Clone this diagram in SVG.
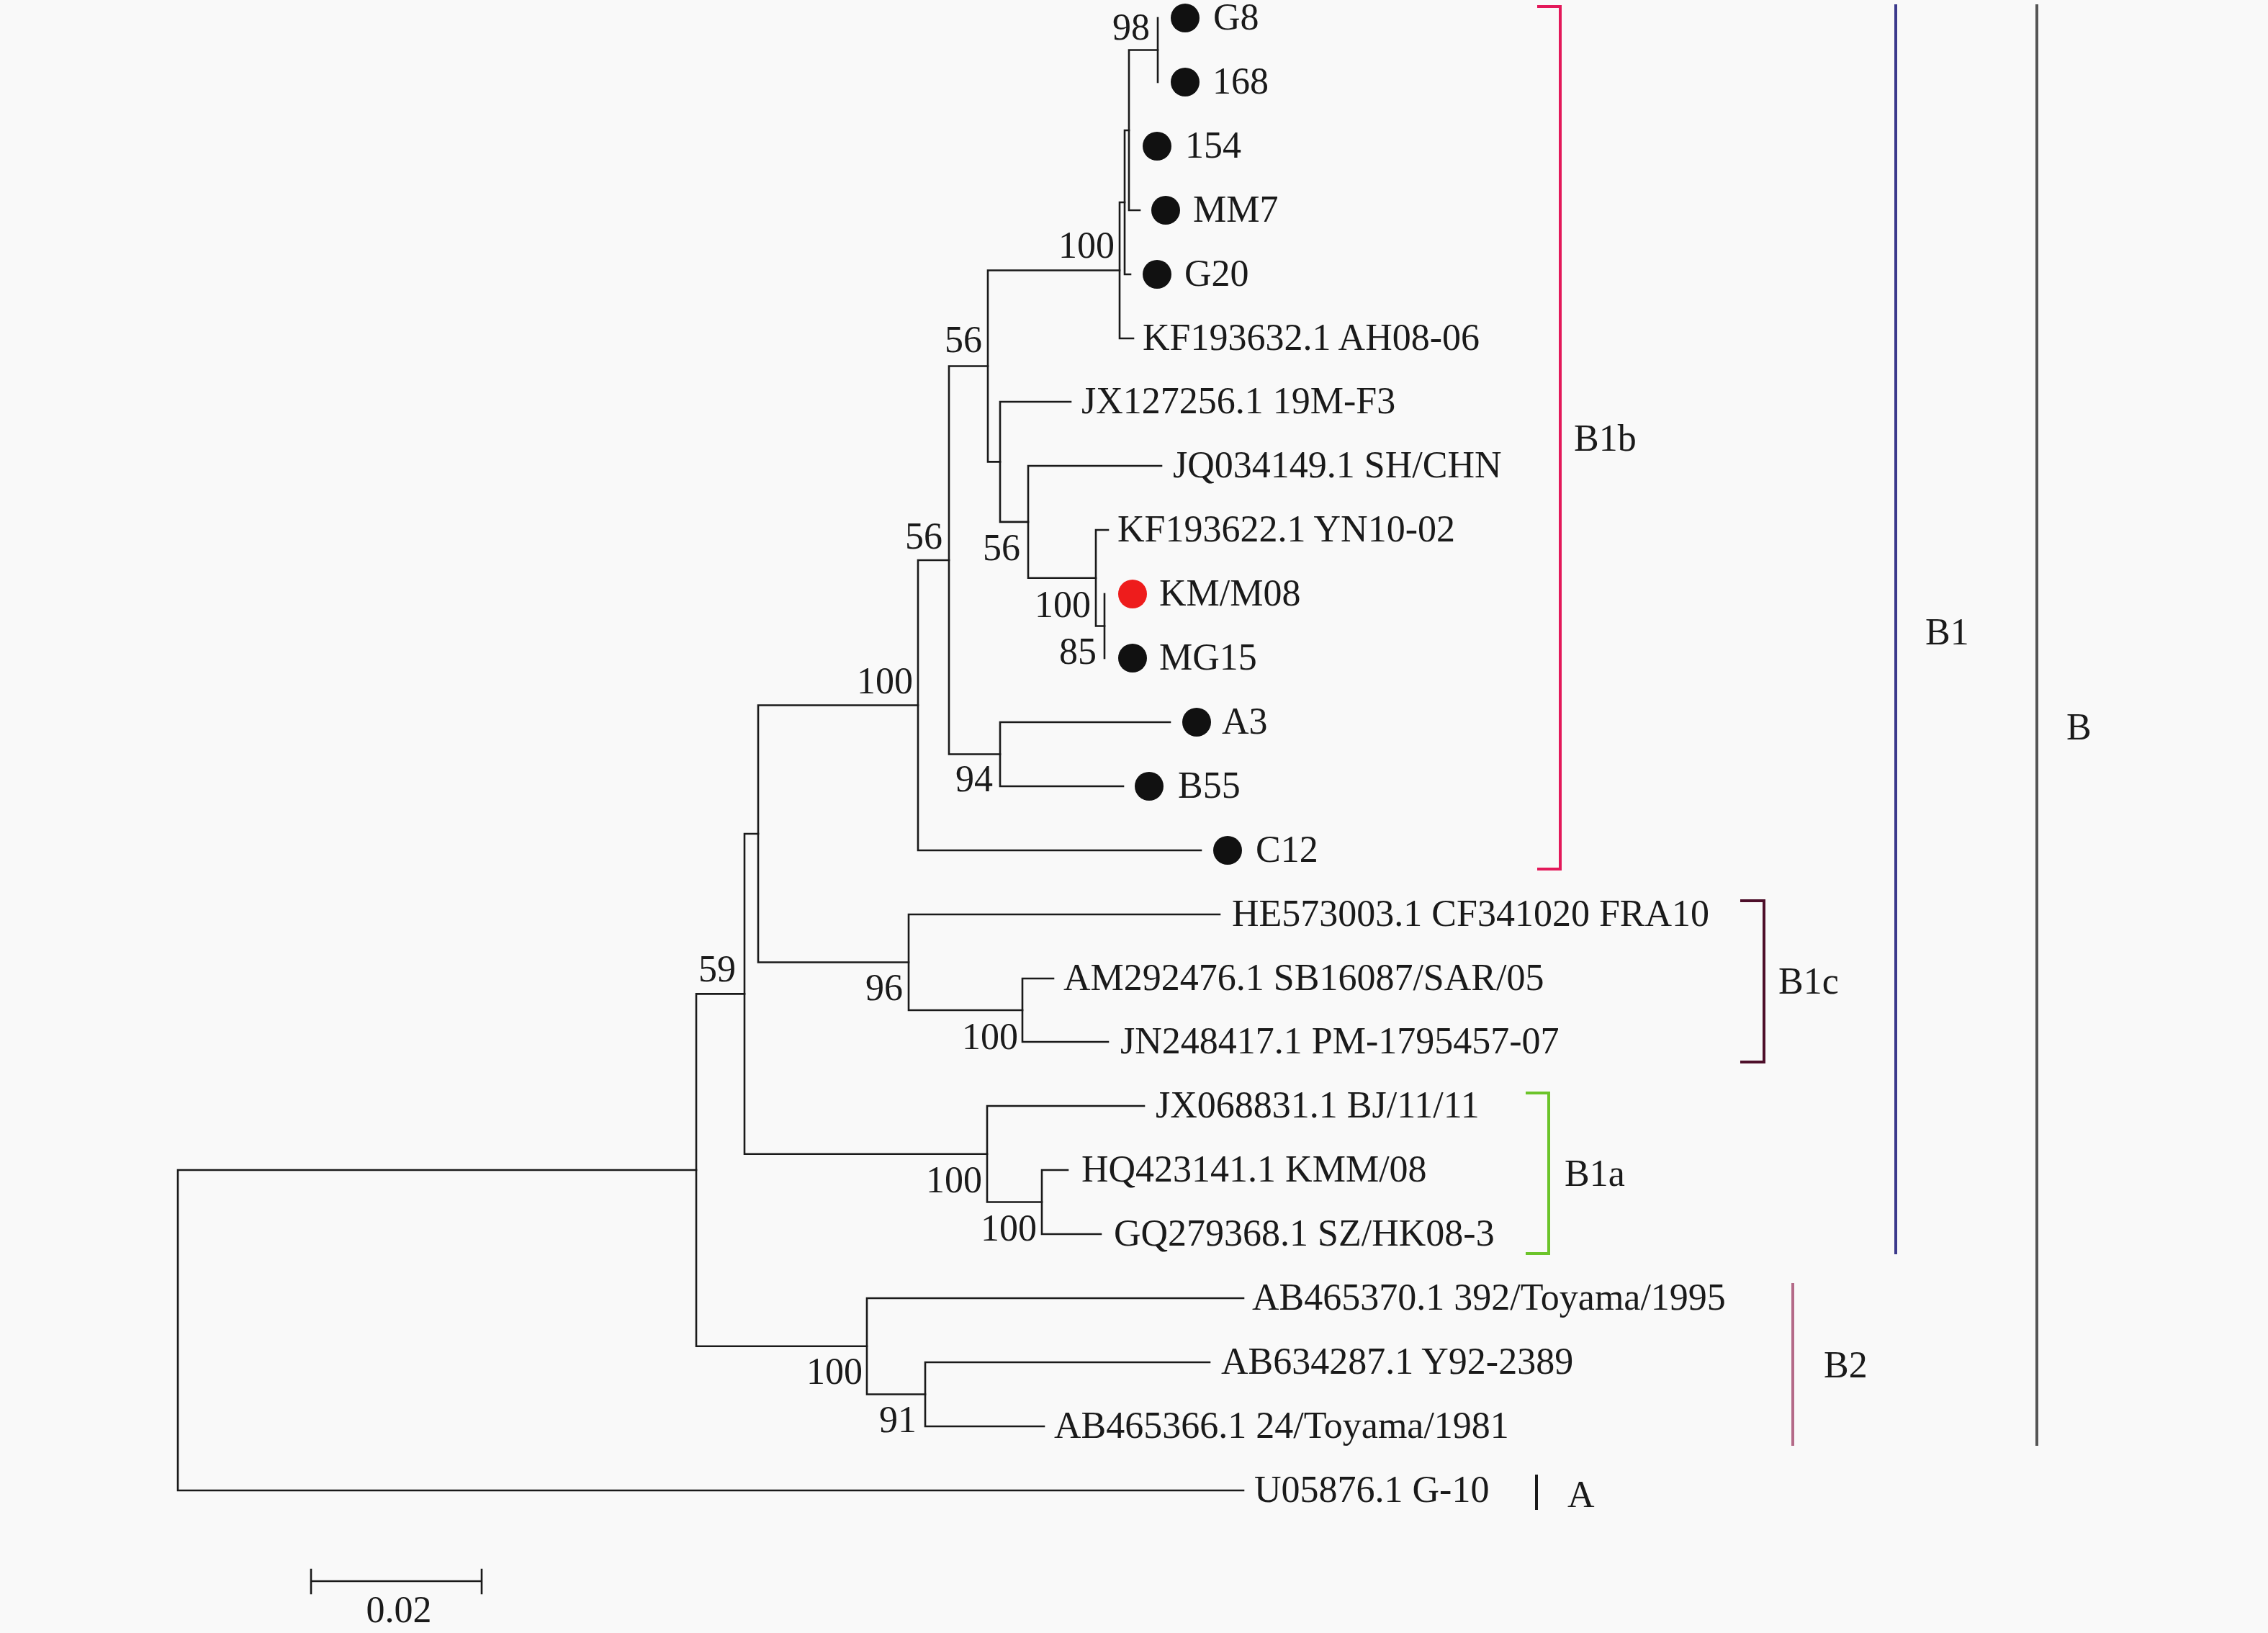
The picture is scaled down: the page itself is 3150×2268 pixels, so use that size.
<svg xmlns="http://www.w3.org/2000/svg" width="3150" height="2268" viewBox="0 0 3150 2268">
<style>
text{font-family:"Liberation Serif","Times New Roman",serif;font-size:52px;fill:#1a1a1a}
.bs{text-anchor:end}
.br{fill:none;stroke:#1a1a1a;stroke-width:2.6;stroke-linecap:square}
.dot{fill:#111}
.red{fill:#ee1c1c}
.clade{fill:none;stroke-width:4}
</style>
<rect width="3150" height="2268" fill="#f9f9f9"/>
<g id="connectors" class="br">
<path d="M247,1625V2070M247,1625H967M247,2070H1727"/>
<path d="M967,1380.4V1869.8M967,1380.4H1034M967,1869.8H1204"/>
<path d="M1034,1158V1602.8M1034,1158H1053M1034,1602.8H1371"/>
<path d="M1053,979.5V1336.5M1053,979.5H1275M1053,1336.5H1262"/>
<path d="M1275,778V1181M1275,778H1318M1275,1181H1668"/>
<path d="M1318,508.5V1047.5M1318,508.5H1372M1318,1047.5H1389"/>
<path d="M1372,375.5V641.4M1372,375.5H1555M1372,641.4H1389"/>
<path d="M1555,281V470M1555,281H1562M1555,470H1574"/>
<path d="M1562,181V381M1562,181H1568M1562,381H1570"/>
<path d="M1568,69.5V292M1568,69.5H1608M1568,292H1583"/>
<path d="M1608,25V114"/>
<path d="M1389,558V724.9M1389,558H1487M1389,724.9H1428"/>
<path d="M1428,647V802.8M1428,647H1613M1428,802.8H1522"/>
<path d="M1522,736V869.5M1522,736H1539M1522,869.5H1534"/>
<path d="M1534,825V914"/>
<path d="M1389,1003V1092M1389,1003H1625M1389,1092H1560"/>
<path d="M1262,1270V1403M1262,1270H1694M1262,1403H1420"/>
<path d="M1420,1359V1447M1420,1359H1463M1420,1447H1539"/>
<path d="M1371,1536V1669.5M1371,1536H1589M1371,1669.5H1447"/>
<path d="M1447,1625V1714M1447,1625H1483M1447,1714H1529"/>
<path d="M1204,1803V1936.5M1204,1803H1727M1204,1936.5H1285"/>
<path d="M1285,1892V1981M1285,1892H1680M1285,1981H1450"/>
</g>
<g id="bootstrap">
<text class="bs" x="1597" y="55">98</text>
<text class="bs" x="1548" y="358">100</text>
<text class="bs" x="1364" y="489">56</text>
<text class="bs" x="1309" y="762">56</text>
<text class="bs" x="1417" y="778">56</text>
<text class="bs" x="1515" y="857">100</text>
<text class="bs" x="1523" y="922">85</text>
<text class="bs" x="1268" y="963">100</text>
<text class="bs" x="1379" y="1099">94</text>
<text class="bs" x="1022" y="1363">59</text>
<text class="bs" x="1254" y="1389">96</text>
<text class="bs" x="1414" y="1457">100</text>
<text class="bs" x="1364" y="1656">100</text>
<text class="bs" x="1440" y="1723">100</text>
<text class="bs" x="1198" y="1922">100</text>
<text class="bs" x="1273" y="1989">91</text>
</g>
<g id="leaf-G8"><circle class="dot" cx="1646" cy="25" r="20"/><text x="1685" y="41">G8</text></g>
<g id="leaf-168"><circle class="dot" cx="1646" cy="114" r="20"/><text x="1684" y="130">168</text></g>
<g id="leaf-154"><circle class="dot" cx="1607" cy="203" r="20"/><text x="1646" y="219">154</text></g>
<g id="leaf-MM7"><circle class="dot" cx="1619" cy="292" r="20"/><text x="1657" y="308">MM7</text></g>
<g id="leaf-G20"><circle class="dot" cx="1607" cy="381" r="20"/><text x="1645" y="397">G20</text></g>
<g id="leaf-KF193632"><text x="1587" y="486">KF193632.1 AH08-06</text></g>
<g id="leaf-JX127256"><text x="1502" y="574">JX127256.1 19M-F3</text></g>
<g id="leaf-JQ034149"><text x="1629" y="663">JQ034149.1 SH/CHN</text></g>
<g id="leaf-KF193622"><text x="1552" y="752">KF193622.1 YN10-02</text></g>
<g id="leaf-KMM08"><circle class="red" cx="1573" cy="825" r="20"/><text x="1610" y="841">KM/M08</text></g>
<g id="leaf-MG15"><circle class="dot" cx="1573" cy="914" r="20"/><text x="1610" y="930">MG15</text></g>
<g id="leaf-A3"><circle class="dot" cx="1662" cy="1003" r="20"/><text x="1697" y="1019">A3</text></g>
<g id="leaf-B55"><circle class="dot" cx="1596" cy="1092" r="20"/><text x="1636" y="1108">B55</text></g>
<g id="leaf-C12"><circle class="dot" cx="1705" cy="1181" r="20"/><text x="1744" y="1197">C12</text></g>
<g id="leaf-HE573003"><text x="1711" y="1286">HE573003.1 CF341020 FRA10</text></g>
<g id="leaf-AM292476"><text x="1477" y="1375">AM292476.1 SB16087/SAR/05</text></g>
<g id="leaf-JN248417"><text x="1556" y="1463">JN248417.1 PM-1795457-07</text></g>
<g id="leaf-JX068831"><text x="1605" y="1552">JX068831.1 BJ/11/11</text></g>
<g id="leaf-HQ423141"><text x="1502" y="1641">HQ423141.1 KMM/08</text></g>
<g id="leaf-GQ279368"><text x="1547" y="1730">GQ279368.1 SZ/HK08-3</text></g>
<g id="leaf-AB465370"><text x="1739" y="1819">AB465370.1 392/Toyama/1995</text></g>
<g id="leaf-AB634287"><text x="1696" y="1908">AB634287.1 Y92-2389</text></g>
<g id="leaf-AB465366"><text x="1464" y="1997">AB465366.1 24/Toyama/1981</text></g>
<g id="leaf-U05876"><text x="1742" y="2086">U05876.1 G-10</text></g>
<g id="clade-B1b"><path class="clade" stroke="#e3195a" d="M2135,9H2167V1207H2135"/><text x="2186" y="626">B1b</text></g>
<g id="clade-B1c"><path class="clade" stroke="#4e0f2a" d="M2417,1251H2450V1475H2417"/><text x="2470" y="1380">B1c</text></g>
<g id="clade-B1a"><path class="clade" stroke="#6cc42a" d="M2119,1518H2151V1741H2119"/><text x="2173" y="1647">B1a</text></g>
<g id="clade-B2"><path class="clade" stroke="#b46a88" d="M2490,1782V2008"/><text x="2533" y="1913">B2</text></g>
<g id="clade-A"><path class="clade" stroke="#1a1a1a" stroke-width="3" d="M2134,2048V2097"/><text x="2177" y="2093">A</text></g>
<g id="clade-B1"><path class="clade" stroke="#3c3a8c" d="M2633,6V1742"/><text x="2674" y="895">B1</text></g>
<g id="clade-B"><path class="clade" stroke="#555555" d="M2829,6V2008"/><text x="2870" y="1027">B</text></g>
<g id="scale-bar"><path class="br" d="M432,2196H669M432,2180V2213M669,2180V2213"/><text x="554" y="2253" text-anchor="middle">0.02</text></g>
</svg>
